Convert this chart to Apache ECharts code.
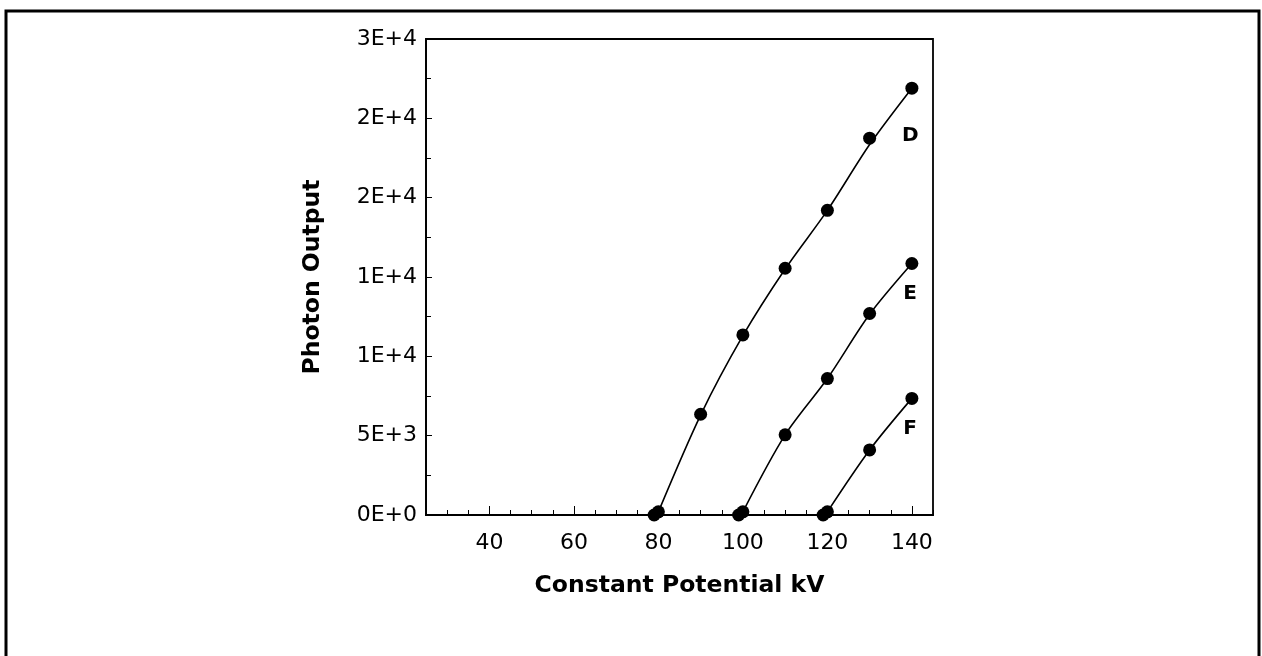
<!DOCTYPE html>
<html>
<head>
<meta charset="utf-8">
<script src="https://cdn.jsdelivr.net/npm/echarts@6/dist/echarts.min.js"></script>
<style>
html,body{margin:0;padding:0;background:#fff;}
#chart{width:1262px;height:656px;}
</style>
</head>
<body>
<div id="chart"></div>
<script>
// ---- data ----
const xTicks = [40, 60, 80, 100, 120, 140];
const yTickLabels = ['0E+0', '5E+3', '1E+4', '1E+4', '2E+4', '2E+4', '3E+4'];

// measured points (kV, photon output)
const kvD = [79, 80, 90, 100, 110, 120, 130, 140];
const outD = [0, 200, 6350, 11350, 15550, 19200, 23750, 26900];
const kvE = [99, 100, 110, 120, 130, 140];
const outE = [0, 200, 5050, 8600, 12700, 15850];
const kvF = [119, 120, 130, 140];
const outF = [0, 200, 4100, 7350];

// fitted curves as drawn
const fitKvD = [80, 90, 100, 110, 120, 130, 140];
const fitD = [200, 6300, 11300, 15500, 19200, 23350, 26900];
const fitKvE = [100, 110, 120, 130, 140];
const fitE = [200, 5050, 8600, 12650, 15850];
const fitKvF = [120, 130, 140];
const fitF = [200, 4100, 7350];

// curve labels
const curveNames = ['D', 'E', 'F'];
const labelKv = [139.6, 139.6, 139.6];
const labelOut = [23900, 13950, 5450];

const pairs = (xs, ys) => xs.map((x, i) => [x, ys[i]]);

const FONT = '"DejaVu Sans", "Liberation Sans", Arial, sans-serif';
const chart = echarts.init(document.getElementById('chart'));

const lineSeries = (xs, ys) => ({
  type: 'line', data: pairs(xs, ys), smooth: 0.3, showSymbol: false,
  lineStyle: { color: '#000', width: 1.6 }, silent: true, z: 2
});
const dotSeries = (xs, ys) => ({
  type: 'scatter', data: pairs(xs, ys), symbol: 'circle', symbolSize: 13,
  itemStyle: { color: '#000', opacity: 1 }, z: 3
});

chart.setOption({
  animation: false,
  backgroundColor: '#fff',
  graphic: [{
    type: 'rect', shape: { x: 6, y: 11, width: 1253, height: 700 },
    style: { fill: 'none', stroke: '#000', lineWidth: 3 }, silent: true
  }],
  grid: { left: 426, right: 329, top: 39, bottom: 141, show: true, borderColor: '#000', borderWidth: 1.8, backgroundColor: 'transparent' },
  xAxis: [{
    type: 'value', min: 25, max: 145, interval: 5,
    name: 'Constant Potential kV', nameLocation: 'middle', nameGap: 59,
    nameTextStyle: { fontFamily: FONT, fontSize: 23.5, fontWeight: 'bold', color: '#000' },
    axisLine: { show: true, onZero: false, lineStyle: { color: '#000', width: 1.8 } },
    axisTick: { show: true, inside: true, length: 9, customValues: xTicks, lineStyle: { color: '#000', width: 1 } },
    splitLine: { show: false },
    axisLabel: {
      fontFamily: FONT, fontSize: 22, color: '#000', margin: 17,
      customValues: xTicks
    }
  }, {
    type: 'value', min: 25, max: 145, interval: 5, position: 'bottom',
    axisLine: { show: false, onZero: false },
    axisTick: { show: true, inside: true, length: 5, lineStyle: { color: '#000', width: 1 } },
    axisLabel: { show: false },
    splitLine: { show: false }
  }],
  yAxis: {
    type: 'value', min: 0, max: 30000, interval: 5000,
    name: 'Photon Output', nameLocation: 'middle', nameGap: 101,
    nameTextStyle: { fontFamily: FONT, fontSize: 23.5, fontWeight: 'bold', color: '#000' },
    axisLine: { show: true, lineStyle: { color: '#000', width: 1.8 } },
    axisTick: { show: true, inside: true, length: 6, lineStyle: { color: '#000', width: 1 } },
    minorTick: { show: true, splitNumber: 2, length: 5, lineStyle: { color: '#000', width: 1 } },
    splitLine: { show: false },
    axisLabel: {
      fontFamily: FONT, fontSize: 22, color: '#000', margin: 9,
      formatter: v => yTickLabels[Math.round(v / 5000)]
    }
  },
  series: [
    lineSeries(fitKvD, fitD), lineSeries(fitKvE, fitE), lineSeries(fitKvF, fitF),
    dotSeries(kvD, outD), dotSeries(kvE, outE), dotSeries(kvF, outF),
    {
      type: 'scatter', symbolSize: 0, silent: true,
      itemStyle: { opacity: 1 },
      data: curveNames.map((n, i) => ({ value: [labelKv[i], labelOut[i]], name: n })),
      label: {
        show: true, position: 'inside', formatter: p => p.name,
        fontFamily: FONT, fontSize: 20, fontWeight: 'bold', color: '#000'
      }
    }
  ]
});
</script>
</body>
</html>
